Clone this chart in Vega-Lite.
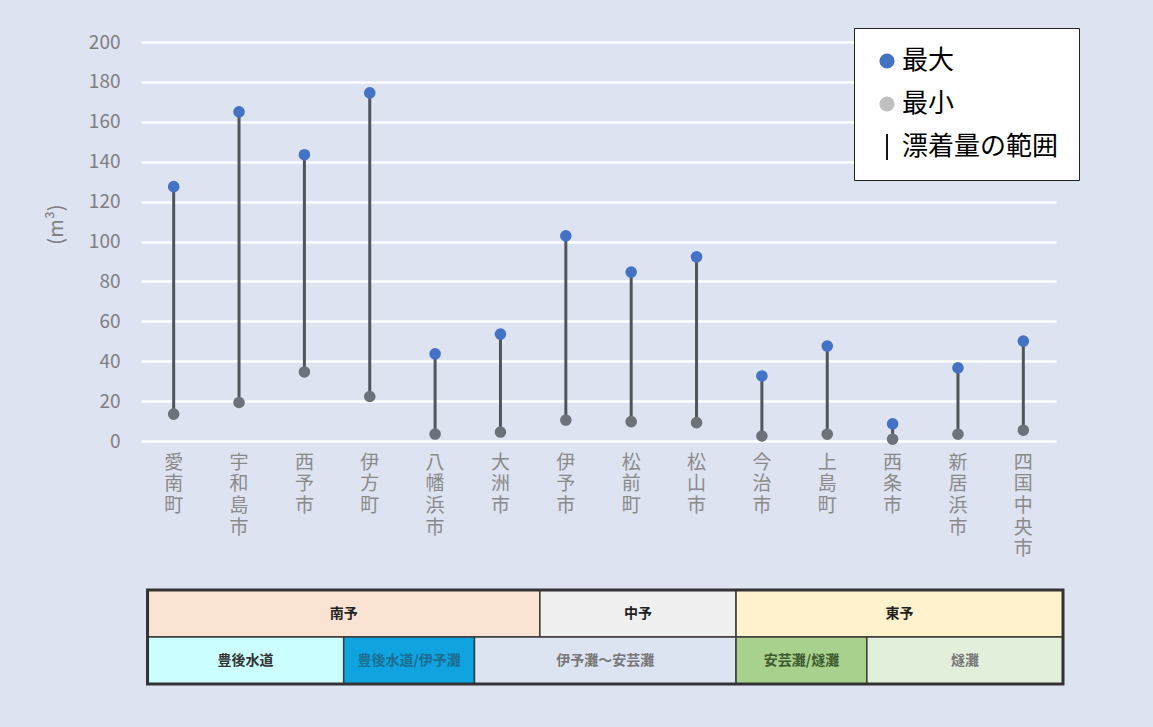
{
  "$schema": "https://vega.github.io/schema/vega-lite/v6.json",
  "background": "#dde3f1",
  "padding": {"left": 46, "top": 27, "right": 79, "bottom": 46},
  "config": {"view": {"stroke": null}, "font": "Noto Sans CJK JP"},
  "spacing": 12,
  "resolve": {"scale": {"color": "independent", "fill": "independent", "shape": "independent"}, "legend": {"color": "independent", "fill": "independent", "shape": "independent"}},
  "datasets": {
    "ranges": [
      {"市町": "愛南町", "最大": 127.5, "最小": 13.5},
      {"市町": "宇和島市", "最大": 165, "最小": 19.3},
      {"市町": "西予市", "最大": 143.5, "最小": 34.6},
      {"市町": "伊方町", "最大": 174.5, "最小": 22.3},
      {"市町": "八幡浜市", "最大": 43.7, "最小": 3.5},
      {"市町": "大洲市", "最大": 53.6, "最小": 4.5},
      {"市町": "伊予市", "最大": 102.8, "最小": 10.5},
      {"市町": "松前町", "最大": 84.7, "最小": 9.7},
      {"市町": "松山市", "最大": 92.3, "最小": 9.2},
      {"市町": "今治市", "最大": 32.6, "最小": 2.5},
      {"市町": "上島町", "最大": 47.6, "最小": 3.4},
      {"市町": "西条市", "最大": 8.6, "最小": 0.9},
      {"市町": "新居浜市", "最大": 36.7, "最小": 3.4},
      {"市町": "四国中央市", "最大": 50.1, "最小": 5.4}
    ],
    "table": [
      {"区分": "南予", "段": "上", "開始": 0.1, "終了": 6.1},
      {"区分": "中予", "段": "上", "開始": 6.1, "終了": 9.1},
      {"区分": "東予", "段": "上", "開始": 9.1, "終了": 14.1},
      {"区分": "豊後水道", "段": "下", "開始": 0.1, "終了": 3.1},
      {"区分": "豊後水道/伊予灘", "段": "下", "開始": 3.1, "終了": 5.1},
      {"区分": "伊予灘～安芸灘", "段": "下", "開始": 5.1, "終了": 9.1},
      {"区分": "安芸灘/燧灘", "段": "下", "開始": 9.1, "終了": 11.1},
      {"区分": "燧灘", "段": "下", "開始": 11.1, "終了": 14.1}
    ]
  },
  "vconcat": [
    {
      "width": 915,
      "height": 399,
      "data": {"name": "ranges"},
      "encoding": {
        "x": {
          "field": "市町", "type": "nominal", "sort": null,
          "scale": {"paddingInner": 0, "paddingOuter": 0},
          "axis": {
            "domain": false, "ticks": false, "grid": false, "title": null,
            "labelAngle": 0, "labelFontSize": 19, "labelColor": "#8a8a8a",
            "labelPadding": 12, "labelBaseline": "top", "labelLineHeight": 21.7,
            "labelExpr": "split(datum.label, '')", "labelOverlap": false,
            "minExtent": 135, "maxExtent": 135
          }
        }
      },
      "layer": [
        {
          "mark": {"type": "rule", "color": "#50555c", "strokeWidth": 3},
          "encoding": {
            "y": {
              "field": "最小", "type": "quantitative",
              "scale": {"domain": [0, 200], "nice": false},
              "axis": {
                "values": [0, 20, 40, 60, 80, 100, 120, 140, 160, 180, 200],
                "domain": false, "ticks": false, "grid": true, "gridColor": "#ffffff", "gridWidth": 2.5,
                "labelFontSize": 19, "labelColor": "#7f7f7f", "labelPadding": 21,
                "title": "(m³)", "titleFontSize": 20, "titleFontWeight": "normal", "titleColor": "#7f7f7f",
                "titleX": -75, "titleY": 182, "titleAngle": -90, "titleBaseline": "bottom", "titleAlign": "center"
              }
            },
            "y2": {"field": "最大"}
          }
        },
        {
          "mark": {"type": "point", "filled": true, "size": 135, "opacity": 1},
          "encoding": {
            "y": {
              "field": "最大", "type": "quantitative",
              "axis": {
                "values": [0, 20, 40, 60, 80, 100, 120, 140, 160, 180, 200],
                "domain": false, "ticks": false, "grid": true, "gridColor": "#ffffff", "gridWidth": 2.5,
                "labelFontSize": 19, "labelColor": "#7f7f7f", "labelPadding": 21,
                "title": "(m³)", "titleFontSize": 20, "titleFontWeight": "normal", "titleColor": "#7f7f7f",
                "titleX": -75, "titleY": 182, "titleAngle": -90, "titleBaseline": "bottom", "titleAlign": "center"
              }
            },
            "color": {
              "datum": "最大", "type": "nominal",
              "scale": {"domain": ["最大", "最小", "漂着量の範囲"], "range": ["#4472c4", "#bfbfbf", "#111111"]},
              "legend": {
                "title": null, "orient": "none", "legendX": 713, "legendY": -14,
                "fillColor": "#ffffff", "strokeColor": "#222222",
                "padding": 20, "rowPadding": 17, "labelOffset": 2,
                "labelFontSize": 26, "labelColor": "#000000", "labelFont": "Noto Sans CJK JP",
                "symbolSize": 230, "symbolStrokeWidth": 0
              }
            },
            "shape": {
              "datum": "最大", "type": "nominal",
              "scale": {"domain": ["最大", "最小", "漂着量の範囲"], "range": ["circle", "circle", "M-0.13,-1.7H0.13V1.7H-0.13Z"]},
              "legend": {
                "title": null, "orient": "none", "legendX": 713, "legendY": -14,
                "fillColor": "#ffffff", "strokeColor": "#222222",
                "padding": 20, "rowPadding": 17, "labelOffset": 2,
                "labelFontSize": 26, "labelColor": "#000000", "labelFont": "Noto Sans CJK JP",
                "symbolSize": 230, "symbolStrokeWidth": 0
              }
            }
          }
        },
        {
          "mark": {"type": "point", "filled": true, "size": 135, "opacity": 1, "color": "#6d7179"},
          "encoding": {
            "y": {
              "field": "最小", "type": "quantitative",
              "axis": {
                "values": [0, 20, 40, 60, 80, 100, 120, 140, 160, 180, 200],
                "domain": false, "ticks": false, "grid": true, "gridColor": "#ffffff", "gridWidth": 2.5,
                "labelFontSize": 19, "labelColor": "#7f7f7f", "labelPadding": 21,
                "title": "(m³)", "titleFontSize": 20, "titleFontWeight": "normal", "titleColor": "#7f7f7f",
                "titleX": -75, "titleY": 182, "titleAngle": -90, "titleBaseline": "bottom", "titleAlign": "center"
              }
            }
          }
        }
      ]
    },
    {
      "width": 922,
      "height": 94,
      "data": {"name": "table"},
      "layer": [
        {
          "mark": {"type": "rect", "stroke": "#3a3a3a", "strokeWidth": 1.5},
          "encoding": {
            "x": {"field": "開始", "type": "quantitative", "scale": {"domain": [0, 14.1], "nice": false, "zero": false}, "axis": null},
            "x2": {"field": "終了"},
            "y": {"field": "段", "type": "nominal", "sort": ["上", "下"], "scale": {"paddingInner": 0, "paddingOuter": 0}, "axis": null},
            "fill": {
              "field": "区分", "type": "nominal", "legend": null,
              "scale": {
                "domain": ["南予", "中予", "東予", "豊後水道", "豊後水道/伊予灘", "伊予灘～安芸灘", "安芸灘/燧灘", "燧灘"],
                "range": ["#fbe3d4", "#f0f0f0", "#fff2cc", "#ccffff", "#0fa3e0", "#dce4f2", "#a9d18e", "#e2efda"]
              }
            }
          }
        },
        {
          "transform": [{"fold": ["開始", "終了"], "as": ["端", "位置"]}],
          "mark": {"type": "text", "fontSize": 14, "fontWeight": "bold"},
          "encoding": {
            "x": {"aggregate": "mean", "field": "位置", "type": "quantitative"},
            "y": {"field": "段", "type": "nominal", "sort": ["上", "下"]},
            "text": {"field": "区分"},
            "color": {
              "field": "区分", "type": "nominal", "legend": null,
              "scale": {
                "domain": ["南予", "中予", "東予", "豊後水道", "豊後水道/伊予灘", "伊予灘～安芸灘", "安芸灘/燧灘", "燧灘"],
                "range": ["#222222", "#222222", "#222222", "#333333", "#1c6d8f", "#777777", "#3d5a2e", "#777777"]
              }
            }
          }
        },
        {
          "mark": {"type": "rect", "fill": "transparent", "stroke": "#333333", "strokeWidth": 3},
          "encoding": {
            "x": {"aggregate": "min", "field": "開始", "type": "quantitative"},
            "x2": {"aggregate": "max", "field": "終了"}
          }
        }
      ]
    }
  ]
}
